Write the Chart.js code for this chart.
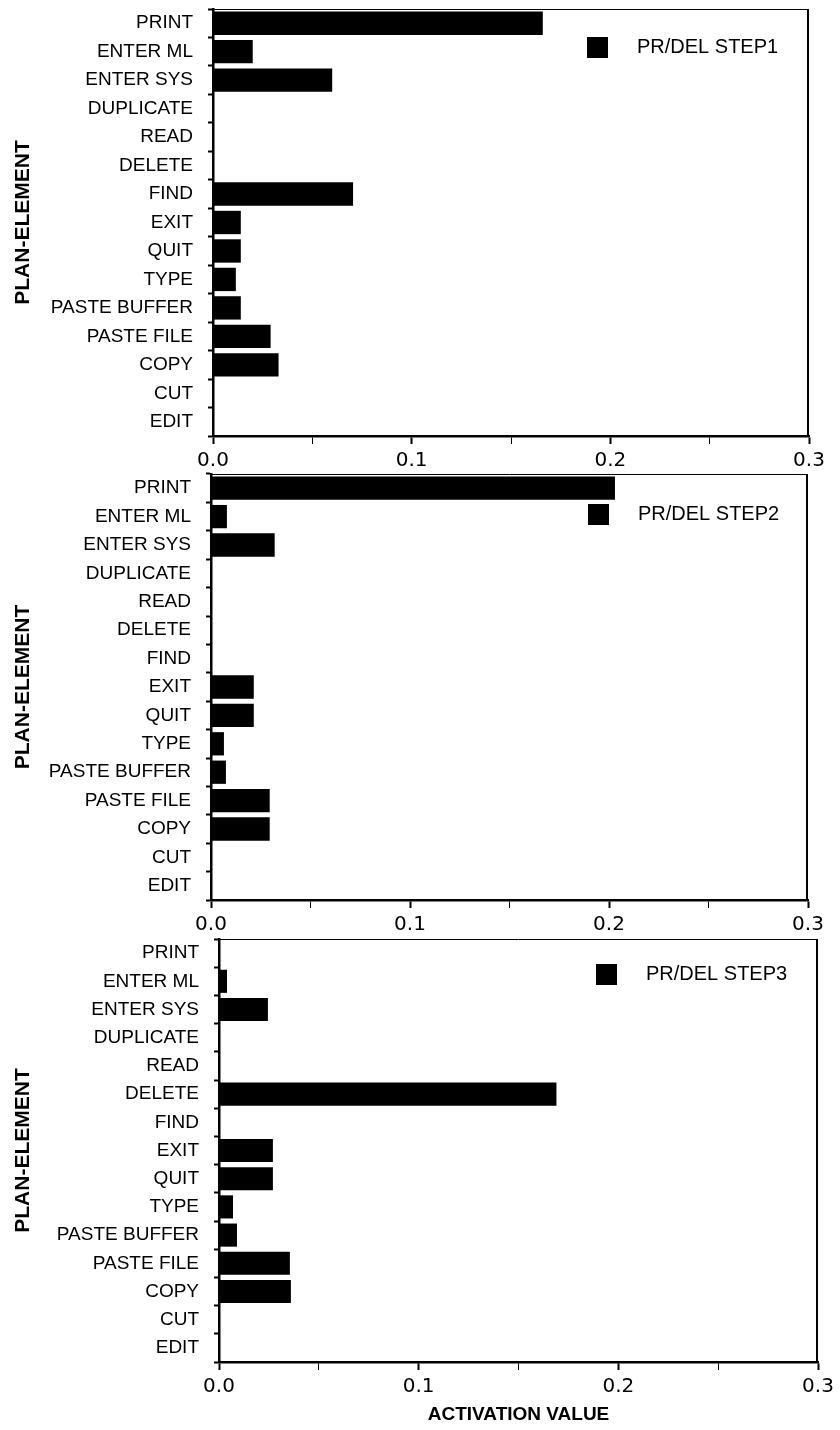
<!DOCTYPE html>
<html>
<head>
<meta charset="utf-8">
<script src="https://cdn.jsdelivr.net/npm/chart.js@4.4.1/dist/chart.umd.min.js"></script>
<style>
  body { margin: 0; background: #fff; }
  #pagina { position: relative; width: 840px; height: 1430px; background: #fff; }
  .panel { position: absolute; left: 0; width: 840px; }
</style>
</head>
<body>
<div id="pagina">
  <div class="panel" style="top:0px;height:470px"><canvas id="graficoPaso1"></canvas></div>
  <div class="panel" style="top:470px;height:465px"><canvas id="graficoPaso2"></canvas></div>
  <div class="panel" style="top:935px;height:495px"><canvas id="graficoPaso3"></canvas></div>
</div>
<script>
// categorias (de arriba a abajo)
const elementos = ["PRINT", "ENTER ML", "ENTER SYS", "DUPLICATE", "READ", "DELETE", "FIND",
  "EXIT", "QUIT", "TYPE", "PASTE BUFFER", "PASTE FILE", "COPY", "CUT", "EDIT"];

const paso1 = [0.166, 0.020, 0.060, 0, 0, 0, 0.0705, 0.014, 0.014, 0.0115, 0.014, 0.029, 0.033, 0, 0];
const paso2 = [0.203, 0.008, 0.032, 0, 0, 0, 0, 0.0215, 0.0215, 0.0065, 0.0075, 0.0295, 0.0295, 0, 0];
const paso3 = [0, 0.004, 0.0245, 0, 0, 0.169, 0, 0.027, 0.027, 0.007, 0.009, 0.0355, 0.036, 0, 0];

const etiquetasPaso = ["PR/DEL STEP1", "PR/DEL STEP2", "PR/DEL STEP3"];
const ticksX = [0.0, 0.1, 0.2, 0.3];

Chart.defaults.font.family = "'Liberation Sans', Arial, sans-serif";
Chart.defaults.color = "#000";

// marco + leyenda dentro del area
const marcoPlugin = {
  id: "marco",
  afterDraw(chart, args, opts) {
    const { ctx, chartArea: a } = chart;
    ctx.save();
    ctx.strokeStyle = "#000";
    ctx.lineWidth = 1;
    ctx.beginPath();
    ctx.moveTo(a.left, a.top + 0.5);
    ctx.lineTo(a.right, a.top + 0.5);
    ctx.stroke();
    ctx.lineWidth = 2;
    ctx.beginPath();
    ctx.moveTo(a.right - 1, a.top);
    ctx.lineTo(a.right - 1, a.bottom);
    ctx.stroke();

    // leyenda
    const ds = chart.data.datasets[0];
    const x = a.left + opts.dx;
    const y = a.top + opts.dy;
    ctx.fillStyle = ds.backgroundColor;
    ctx.fillRect(x, y - 10, 21, 21);
    ctx.fillStyle = "#000";
    ctx.font = "20px 'Liberation Sans', Arial, sans-serif";
    ctx.textBaseline = "middle";
    ctx.textAlign = "left";
    ctx.fillText(ds.label, x + 50, y);
    ctx.restore();
  }
};

function generarPanel(id, valores, etiqueta, geo) {
  const ctx = document.getElementById(id).getContext("2d");
  new Chart(ctx, {
    type: "bar",
    data: {
      labels: elementos,
      datasets: [{
        label: etiqueta,
        data: valores,
        backgroundColor: "#000",
        borderWidth: 0,
        barPercentage: 0.82,
        categoryPercentage: 1.0
      }]
    },
    plugins: [marcoPlugin],
    options: {
      indexAxis: "y",
      responsive: true,
      maintainAspectRatio: false,
      animation: false,
      layout: { padding: { top: geo.top, right: geo.right, bottom: 0, left: 0 } },
      plugins: {
        legend: { display: false },
        tooltip: { enabled: false },
        marco: { dx: geo.legX, dy: geo.legY }
      },
      scales: {
        x: {
          min: 0,
          max: 0.3,
          afterFit: s => { s.height = geo.alto; },
          border: { display: true, color: "#000", width: 2.5 },
          grid: {
            drawOnChartArea: false,
            drawTicks: true,
            tickLength: 8,
            tickColor: "#000",
            tickWidth: c => (Math.round(c.tick.value * 100) % 10 === 0 ? 2 : 1)
          },
          ticks: {
            stepSize: 0.05,
            autoSkip: false,
            maxRotation: 0,
            padding: 5,
            font: { family: "'DejaVu Sans', sans-serif", size: 20 },
            callback: v => {
              const t = ticksX.find(k => Math.abs(k - v) < 1e-6);
              return t === undefined ? "" : t.toFixed(1);
            }
          },
          title: {
            display: geo.tituloX,
            text: "ACTIVATION VALUE",
            font: { size: 19, weight: "bold" },
            padding: { top: 0, bottom: 4 }
          }
        },
        y: {
          afterFit: s => {
            s.width = geo.ancho;
            s.paddingTop = 0;
            s.paddingBottom = 0;
          },
          border: { display: true, color: "#000", width: 2.5 },
          grid: {
            drawOnChartArea: false,
            drawTicks: true,
            tickLength: 5,
            tickColor: "#000",
            tickWidth: 2
          },
          ticks: {
            padding: 15,
            autoSkip: false,
            font: { size: 19 }
          },
          title: {
            display: true,
            text: "PLAN-ELEMENT",
            font: { size: 21, weight: "bold" },
            padding: { top: 11, bottom: 0 }
          }
        }
      }
    }
  });
}

document.addEventListener("DOMContentLoaded", () => {
  generarPanel("graficoPaso1", paso1, etiquetasPaso[0],
    { top: 9, right: 31, ancho: 213, alto: 34, legX: 374, legY: 38, tituloX: false });
  generarPanel("graficoPaso2", paso2, etiquetasPaso[1],
    { top: 4, right: 32, ancho: 211, alto: 35, legX: 377, legY: 40, tituloX: false });
  generarPanel("graficoPaso3", paso3, etiquetasPaso[2],
    { top: 4, right: 22, ancho: 219, alto: 68, legX: 377, legY: 35, tituloX: true });
});
</script>
</body>
</html>
